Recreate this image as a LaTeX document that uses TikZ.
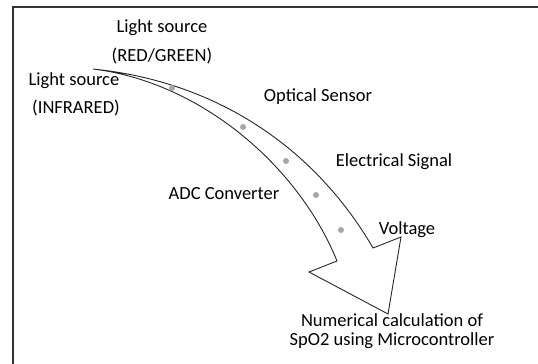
\documentclass[tikz,border=0pt]{standalone}
\usepackage{fontspec}
\setmainfont{Carlito}
\begin{document}
\begin{tikzpicture}[x=1pt,y=-1pt,
  lbl/.style={inner sep=0pt,font=\fontsize{18.5}{18.5}\selectfont,text=black},
  dotc/.style={fill=black!35,draw=none},
  arrowline/.style={draw=black!85,line width=0.9pt,line join=miter,fill=white}]
\useasboundingbox (0,0) rectangle (538,364);
\draw[black!80,line width=1.8pt] (13,364) -- (13,7) -- (538,7);
% curved arrow
\coordinate (tail) at (93,69);
\coordinate (ui) at (373,248);
\coordinate (ur) at (401,237);
\coordinate (tip) at (388,314);
\coordinate (ul) at (309,272);
\coordinate (li) at (337,261);
\draw[arrowline] (tail) .. controls (230,83) and (322,160) .. (ui) -- (ur) -- (tip) -- (ul) -- (li)
  .. controls (298,165) and (200,82) .. (tail) -- cycle;
% dots
\foreach \p [count=\i] in {(172,88),(243,127),(286,161),(316,195),(341,230)}
  \fill[dotc] \p circle (3);
% labels
\node[lbl] (ls1) at (162,28) {Light source};
\node[lbl] (rg) at (162,56) {(RED/GREEN)};
\node[lbl] (ls2) at (74,81) {Light source};
\node[lbl] (ir) at (76,108) {(INFRARED)};
\node[lbl] (os) at (318,97) {Optical Sensor};
\node[lbl] (es) at (394,162) {Electrical Signal};
\node[lbl] (adc) at (224,194) {ADC Converter};
\node[lbl] (v) at (407,230) {Voltage};
\node[lbl,align=center] (num) at (392,331) {Numerical calculation of\\SpO2 using Microcontroller};
\end{tikzpicture}
\end{document}
